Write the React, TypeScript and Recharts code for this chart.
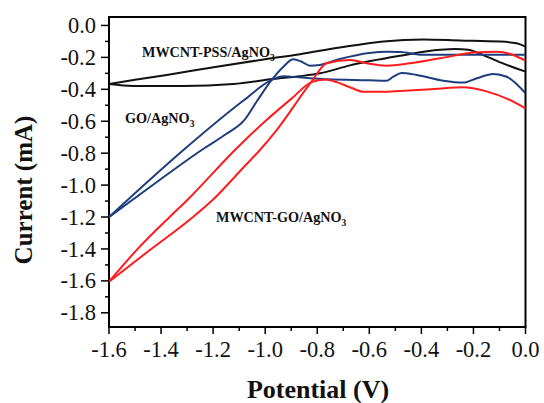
import React from 'react';
import { LineChart, Line, XAxis, YAxis, ReferenceArea } from 'recharts';

type Pt = [number, number];

// potential (V), current (mA) — each CV loop split into its two sweeps
const pssUpper: Pt[] = [
  [-1.6, -0.367], [-1.5, -0.34], [-1.378, -0.31], [-1.186, -0.258], [-0.994, -0.21],
  [-0.866, -0.18], [-0.713, -0.138], [-0.546, -0.1], [-0.392, -0.088], [-0.252, -0.094],
  [-0.098, -0.101], [-0.034, -0.112], [0, -0.133],
];
const pssLower: Pt[] = [
  [-1.6, -0.367], [-1.507, -0.379], [-1.315, -0.38], [-1.122, -0.367], [-0.969, -0.335],
  [-0.866, -0.318], [-0.789, -0.3], [-0.674, -0.25], [-0.482, -0.19], [-0.328, -0.152],
  [-0.27, -0.147], [-0.22, -0.152], [-0.149, -0.195], [-0.072, -0.247], [0, -0.289],
];
const goUpper: Pt[] = [
  [-1.6, -1.2], [-1.314, -0.78], [-1.081, -0.467], [-0.975, -0.341], [-0.93, -0.318],
  [-0.87, -0.325], [-0.76, -0.337], [-0.6, -0.343], [-0.533, -0.346], [-0.508, -0.321],
  [-0.476, -0.298], [-0.418, -0.31], [-0.316, -0.346], [-0.239, -0.358], [-0.187, -0.331],
  [-0.124, -0.304], [-0.072, -0.321], [0, -0.425],
];
const goLower: Pt[] = [
  [-1.6, -1.2], [-1.42, -0.985], [-1.244, -0.78], [-1.15, -0.68], [-1.081, -0.595],
  [-1.03, -0.47], [-0.975, -0.341], [-0.93, -0.258], [-0.892, -0.212], [-0.86, -0.227],
  [-0.828, -0.252], [-0.79, -0.247], [-0.713, -0.21], [-0.6, -0.172], [-0.53, -0.165],
  [-0.48, -0.166], [-0.405, -0.183], [-0.3, -0.184], [0, -0.183],
];
const mixUpper: Pt[] = [
  [-1.6, -1.605], [-1.494, -1.407], [-1.366, -1.198], [-1.299, -1.093], [-1.116, -0.78],
  [-1.0, -0.6], [-0.9, -0.46], [-0.822, -0.355], [-0.77, -0.338], [-0.725, -0.355],
  [-0.67, -0.39], [-0.623, -0.415], [-0.55, -0.415], [-0.48, -0.41], [-0.35, -0.398],
  [-0.24, -0.387], [-0.15, -0.413], [-0.07, -0.46], [0, -0.519],
];
const mixLower: Pt[] = [
  [-1.6, -1.605], [-1.443, -1.407], [-1.276, -1.198], [-1.2, -1.09], [-1.081, -0.885],
  [-1.02, -0.78], [-0.956, -0.655], [-0.822, -0.352], [-0.764, -0.237], [-0.674, -0.216],
  [-0.61, -0.237], [-0.533, -0.252], [-0.444, -0.237], [-0.328, -0.206], [-0.2, -0.17],
  [-0.11, -0.164], [-0.047, -0.185], [0, -0.221],
];

const xTicks = [-1.6, -1.5, -1.4, -1.3, -1.2, -1.1, -1.0, -0.9, -0.8, -0.7, -0.6, -0.5, -0.4, -0.3, -0.2, -0.1, 0];
const yTicks = [0, -0.1, -0.2, -0.3, -0.4, -0.5, -0.6, -0.7, -0.8, -0.9, -1.0, -1.1, -1.2, -1.3, -1.4, -1.5, -1.6, -1.7, -1.8];

const X_DOMAIN: [number, number] = [-1.6, 0];
const Y_DOMAIN: [number, number] = [-1.889, 0.053];

const BLACK = '#111';
const BLUE = '#1f3d7d';
const RED = '#ff1c1c';
const FONT = '"Liberation Serif", "Times New Roman", serif';

const toRows = (pts: Pt[]) => pts.map(([v, i]) => ({ v, i }));

const isMajor = (v: number) => Math.abs(Math.round(v * 10)) % 2 === 0;

function YTick({ x, y, payload }: any) {
  const major = isMajor(payload.value);
  return (
    <g>
      <line x1={x} x2={x - (major ? 8 : 4)} y1={y} y2={y} stroke="#000" strokeWidth={1.5} />
      {major && (
        <text x={x - 13} y={y + 7.6} textAnchor="end" fontSize={22.5} style={{ fontFamily: FONT }} fill="#111">
          {payload.value.toFixed(1)}
        </text>
      )}
    </g>
  );
}

function XTick({ x, y, payload }: any) {
  const major = isMajor(payload.value);
  return (
    <g>
      <line x1={x} x2={x} y1={y} y2={y + (major ? 7 : 4)} stroke="#000" strokeWidth={1.5} />
      {major && (
        <text x={x} y={y + 30} textAnchor="middle" fontSize={22.5} style={{ fontFamily: FONT }} fill="#111">
          {payload.value.toFixed(1)}
        </text>
      )}
    </g>
  );
}

function Tag({ x, y, text }: { x: number; y: number; text: string }) {
  return (
    <text x={x} y={y} fontSize={14.2} fontWeight="bold" style={{ fontFamily: FONT }} fill="#111">
      {text}
      <tspan fontSize={9.5} dy={4}>3</tspan>
    </text>
  );
}

const series = [
  { key: 'pssUpper', pts: pssUpper, color: BLACK },
  { key: 'pssLower', pts: pssLower, color: BLACK },
  { key: 'goUpper', pts: goUpper, color: BLUE },
  { key: 'goLower', pts: goLower, color: BLUE },
  { key: 'mixUpper', pts: mixUpper, color: RED },
  { key: 'mixLower', pts: mixLower, color: RED },
];

export default function App() {
  return (
    <div style={{ position: 'absolute', left: 0, top: 0, width: 544, height: 403, background: '#fff' }}>
      <LineChart width={544} height={403} margin={{ top: 17, right: 18.5, left: 0, bottom: 0 }}>
        <XAxis
          type="number"
          dataKey="v"
          domain={X_DOMAIN}
          ticks={xTicks}
          interval={0}
          allowDataOverflow
          height={76}
          tickSize={0}
          tickMargin={0}
          tickLine={false}
          axisLine={false}
          tick={<XTick />}
        />
        <YAxis
          type="number"
          domain={Y_DOMAIN}
          ticks={yTicks}
          interval={0}
          allowDataOverflow
          width={109}
          tickSize={0}
          tickMargin={0}
          tickLine={false}
          axisLine={false}
          tick={<YTick />}
        />
        {series.map((s) => (
          <Line
            key={s.key}
            data={toRows(s.pts)}
            dataKey="i"
            type="monotone"
            stroke={s.color}
            strokeWidth={2}
            dot={false}
            activeDot={false}
            isAnimationActive={false}
          />
        ))}
        <ReferenceArea
          x1={X_DOMAIN[0]}
          x2={X_DOMAIN[1]}
          y1={Y_DOMAIN[0]}
          y2={Y_DOMAIN[1]}
          fill="none"
          stroke="#000"
          strokeWidth={2}
          ifOverflow="visible"
        />
      </LineChart>
      <svg width={544} height={403} style={{ position: 'absolute', left: 0, top: 0, pointerEvents: 'none' }}>
        <Tag x={142} y={57} text="MWCNT-PSS/AgNO" />
        <Tag x={125} y={122.5} text="GO/AgNO" />
        <Tag x={216} y={221.5} text="MWCNT-GO/AgNO" />
        <text
          x={32}
          y={190}
          transform="rotate(-90 32 190)"
          textAnchor="middle"
          fontSize={25}
          fontWeight="bold"
          style={{ fontFamily: FONT }}
          fill="#111"
        >
          Current (mA)
        </text>
        <text x={318} y={398} textAnchor="middle" fontSize={26} fontWeight="bold" style={{ fontFamily: FONT }} fill="#111">
          Potential (V)
        </text>
      </svg>
    </div>
  );
}
